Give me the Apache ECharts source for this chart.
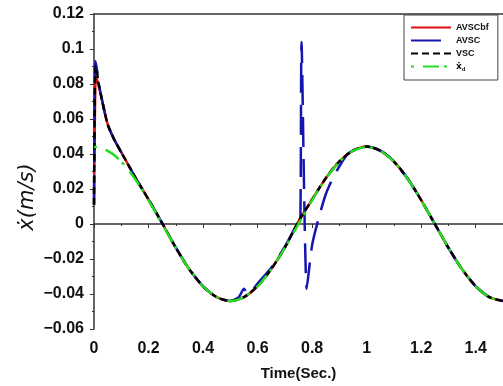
<!DOCTYPE html>
<html>
<head>
<meta charset="utf-8">
<script src="https://cdn.jsdelivr.net/npm/echarts@6/dist/echarts.min.js"></script>
<style>html,body{margin:0;padding:0;background:#fff}#c{width:503px;height:386px}</style>
</head>
<body>
<div id="c"></div>
<script>
// Time samples (s)
var tMain = [0, 0.005, 0.01, 0.015, 0.025, 0.05, 0.075, 0.1, 0.125, 0.15, 0.175, 0.2, 0.25, 0.3, 0.35, 0.4, 0.45, 0.5, 0.55, 0.6, 0.65, 0.7, 0.75, 0.8, 0.85, 0.9, 0.95, 1.0, 1.05, 1.1, 1.15, 1.2, 1.25, 1.3, 1.35, 1.4, 1.45, 1.5];
// VSC (black dashed)
var vsc = [0.011, 0.090, 0.088, 0.082, 0.074, 0.057, 0.048, 0.041, 0.034, 0.027, 0.0205, 0.014, 0.0005, -0.0135, -0.026, -0.0356, -0.0418, -0.044, -0.0418, -0.0355, -0.0258, -0.0135, 0.0015, 0.0140, 0.0262, 0.0358, 0.0419, 0.0443, 0.0419, 0.0357, 0.026, 0.0137, 0.0, -0.0136, -0.0259, -0.0356, -0.0418, -0.044];
// AVSCbf (red)
var avscbf = [0.011, 0.082, 0.083, 0.080, 0.074, 0.057, 0.048, 0.041, 0.034, 0.027, 0.0205, 0.014, 0.0005, -0.0135, -0.026, -0.0356, -0.0418, -0.044, -0.0418, -0.0355, -0.0258, -0.0135, 0.0015, 0.0140, 0.0262, 0.0358, 0.0419, 0.0443, 0.0419, 0.0357, 0.026, 0.0137, 0.0, -0.0136, -0.0259, -0.0356, -0.0418, -0.044];
// x_d desired (green)
var xd = [0.044, 0.044, 0.0439, 0.0438, 0.0435, 0.0418, 0.0393, 0.0356, 0.0311, 0.0259, 0.0200, 0.0136, 0.0, -0.0136, -0.0259, -0.0356, -0.0418, -0.044, -0.0418, -0.0356, -0.0259, -0.0136, 0.0, 0.0136, 0.0259, 0.0356, 0.0418, 0.044, 0.0418, 0.0356, 0.0259, 0.0136, 0.0, -0.0136, -0.0259, -0.0356, -0.0418, -0.044];
// AVSC (blue) with its own samples
var tAvsc = [0, 0.005, 0.01, 0.015, 0.025, 0.05, 0.075, 0.1, 0.125, 0.15, 0.175, 0.2, 0.25, 0.3, 0.35, 0.4, 0.45, 0.5, 0.53, 0.55, 0.565, 0.6, 0.65, 0.7, 0.75, 0.757, 0.761, 0.78, 0.8, 0.825, 0.85, 0.875, 0.9, 0.93, 0.95, 1.0, 1.05, 1.1, 1.15, 1.2, 1.25, 1.3, 1.35, 1.4, 1.45, 1.5];
var avsc = [0.011, 0.093, 0.089, 0.083, 0.074, 0.057, 0.048, 0.041, 0.034, 0.027, 0.0205, 0.014, 0.0005, -0.0135, -0.026, -0.0356, -0.0418, -0.044, -0.042, -0.037, -0.040, -0.034, -0.025, -0.013, 0.0015, 0.003, 0.104, -0.037, -0.012, 0.004, 0.017, 0.026, 0.033, 0.040, 0.0419, 0.0443, 0.0419, 0.0357, 0.026, 0.0137, 0.0, -0.0136, -0.0259, -0.0356, -0.0418, -0.044];
var seriesNames = ['AVSCbf', 'AVSC', 'VSC', 'xd'];
var xTicks = {min: 0, max: 1.5, interval: 0.2};
var yTicks = {min: -0.06, max: 0.12, interval: 0.02};

function pairs(t, v) { return t.map(function (x, i) { return [x, v[i]]; }); }
function fmt(v) {
  var s = String(+v.toFixed(2));
  return s.replace('-', '\u2212');
}

var chart = echarts.init(document.getElementById('c'), null, {renderer: 'canvas'});
var labelFont = {fontFamily: 'Liberation Sans', fontWeight: 'bold', fontSize: 16, color: '#111'};
chart.setOption({
  animation: false,
  backgroundColor: '#fff',
  grid: {left: 94, right: 0, top: 14, bottom: 54},
  legend: {
    data: seriesNames,
    orient: 'vertical',
    left: 404, top: 15,
    padding: [8, 9, 8, 6],
    itemWidth: 40, itemHeight: 9, itemGap: 4,
    itemStyle: {opacity: 0},
    borderColor: '#444', borderWidth: 1, backgroundColor: '#fff',
    textStyle: {fontFamily: 'Liberation Sans', fontWeight: 'bold', fontSize: 9, color: '#111',
      rich: {b: {fontFamily: 'DejaVu Sans', fontWeight: 'bold', fontSize: 9, color: '#111'},
             s: {fontFamily: 'Liberation Sans', fontWeight: 'bold', fontSize: 6, color: '#111', padding: [5, 0, 0, 0]}}},
    formatter: function (n) { return n === 'xd' ? '{b|\u1E8B}{s|d}' : n; }
  },
  xAxis: [{
    type: 'value', min: xTicks.min, max: xTicks.max, interval: xTicks.interval,
    name: 'Time(Sec.)', nameLocation: 'middle', nameGap: 37,
    nameTextStyle: {fontFamily: 'Liberation Sans', fontWeight: 'bold', fontSize: 15, color: '#111'},
    axisLine: {lineStyle: {color: '#333', width: 1.5}},
    axisTick: {show: true, length: 4, lineStyle: {color: '#333'}},
    minorTick: {show: true, splitNumber: 2, length: 2, lineStyle: {color: '#333'}},
    axisLabel: Object.assign({margin: 12, showMaxLabel: false, formatter: fmt}, labelFont),
    splitLine: {show: false}
  }, {
    type: 'value', position: 'top', min: xTicks.min, max: xTicks.max,
    axisLine: {show: true, lineStyle: {color: '#333', width: 1.5}},
    axisTick: {show: false}, axisLabel: {show: false}, splitLine: {show: false}
  }],
  yAxis: {
    type: 'value', min: yTicks.min, max: yTicks.max, interval: yTicks.interval,
    axisLine: {show: true, lineStyle: {color: '#333', width: 1.5}},
    axisTick: {show: true, length: 4, lineStyle: {color: '#333'}},
    minorTick: {show: true, splitNumber: 2, length: 2, lineStyle: {color: '#333'}},
    axisLabel: Object.assign({margin: 10, formatter: fmt}, labelFont),
    splitLine: {show: false}
  },
  graphic: [{
    type: 'text', x: 28, y: 197, rotation: Math.PI / 2,
    style: {text: '\u1E8B(m/s)', fill: '#111', font: 'italic 21px "DejaVu Sans"', textAlign: 'center', textVerticalAlign: 'middle'}
  }],
  series: [
    {name: 'AVSCbf', type: 'line', data: pairs(tMain, avscbf), showSymbol: false, symbol: 'none', smooth: 0.25,
     color: '#e01010', lineStyle: {color: '#e01010', width: 2.5, type: 'solid'}},
    {name: 'AVSC', type: 'line', data: pairs(tAvsc, avsc), showSymbol: false, symbol: 'none', smooth: 0.2,
     color: '#1515b0', lineStyle: {color: '#1515b0', width: 2.5, type: [30, 12]}},
    {name: 'VSC', type: 'line', data: pairs(tMain, vsc), showSymbol: false, symbol: 'none', smooth: 0.25,
     color: '#000', lineStyle: {color: '#000', width: 2.5, type: [7, 4]}},
    {name: 'xd', type: 'line', data: pairs(tMain, xd), showSymbol: false, symbol: 'none', smooth: 0.25,
     color: '#22dd22', lineStyle: {color: '#22dd22', width: 2.5, type: [3, 9, 16, 5]}}
  ]
});
</script>
</body>
</html>
